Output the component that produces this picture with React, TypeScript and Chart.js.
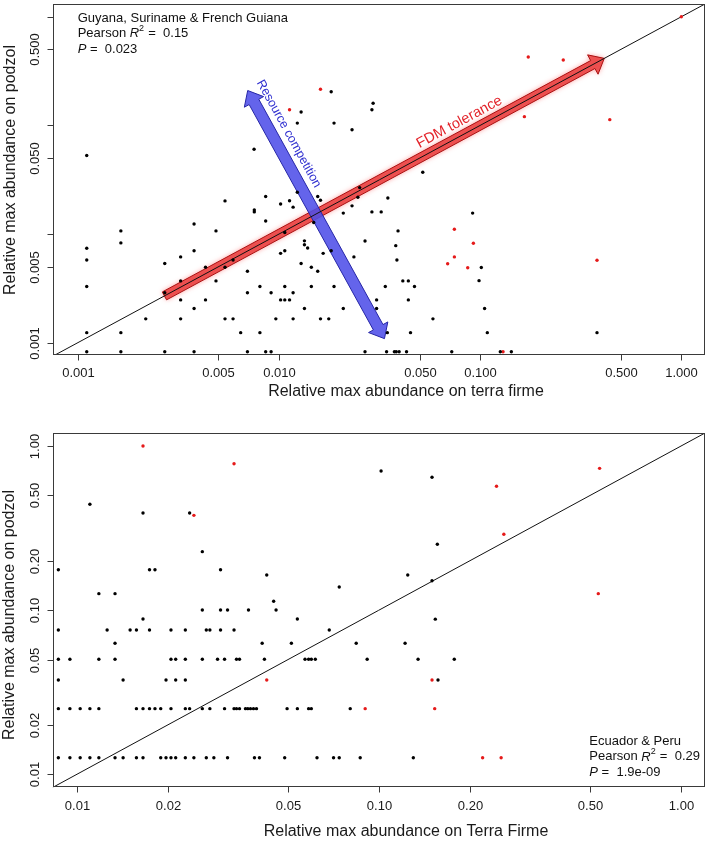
import React, { useEffect, useRef } from "react";
import { Chart, registerables } from "chart.js";
Chart.register(...registerables);

const FONT = '"Liberation Sans", Arial, Helvetica, sans-serif';

// ---------------- Top panel data (Guyana, Suriname & French Guiana) ----------------
const topBlackX = [
  0.00111, 0.0182, 0.0129, 0.01235, 0.0188, 0.0231, 0.00753, 0.0294, 0.029, 0.0519,
  0.0252, 0.01235, 0.0156, 0.0161, 0.0247, 0.0348, 0.0086, 0.0054, 0.0113, 0.0102,
  0.01177, 0.00755, 0.00755, 0.0231, 0.0209, 0.029, 0.03225, 0.0086, 0.0149, 0.00379,
  0.00487, 0.0107, 0.0391, 0.0268, 0.0381, 0.0134, 0.0134, 0.0139, 0.00379, 0.0107,
  0.0182, 0.00111, 0.00111, 0.00111, 0.00111, 0.00111, 0.00164, 0.00164, 0.00164, 0.00164,
  0.00218, 0.00271, 0.00271, 0.00271, 0.00325, 0.00325, 0.00325, 0.00325, 0.00379, 0.00379,
  0.00432, 0.00432, 0.00487, 0.0054, 0.0054, 0.00592, 0.00592, 0.00646, 0.00698, 0.00698,
  0.00698, 0.00805, 0.00805, 0.0086, 0.00915, 0.00915, 0.00966, 0.0102, 0.0102, 0.0107,
  0.0107, 0.0113, 0.01177, 0.01177, 0.0129, 0.0134, 0.0145, 0.0145, 0.0156, 0.0161,
  0.0166, 0.0177, 0.0188, 0.0209, 0.0236, 0.0268, 0.0306, 0.0306, 0.0338, 0.0346,
  0.0343, 0.0386, 0.0375, 0.0383, 0.0396, 0.0413, 0.044, 0.044, 0.0451, 0.0472,
  0.0431, 0.0583, 0.0918, 0.1014, 0.0988, 0.1053, 0.1086, 0.381, 0.0723, 0.126,
  0.143,
];
const topBlackY = [
  0.0529, 0.204, 0.133, 0.105, 0.105, 0.0912, 0.0604, 0.16, 0.1395, 0.0371,
  0.0268, 0.0243, 0.0222, 0.0205, 0.0218, 0.0215, 0.0222, 0.0202, 0.0203, 0.0189,
  0.0177, 0.0167, 0.016, 0.0182, 0.0156, 0.016, 0.016, 0.0132, 0.0128, 0.01237,
  0.0107, 0.01034, 0.0107, 0.00865, 0.00783, 0.00867, 0.00797, 0.00746, 0.00702, 0.00702,
  0.00702, 0.0074, 0.00577, 0.0033, 0.00124, 0.000828, 0.0107, 0.0083, 0.00124, 0.000828,
  0.00166, 0.00536, 0.00289, 0.000828, 0.00617, 0.00371, 0.00248, 0.00166, 0.00207, 0.000828,
  0.00496, 0.00248, 0.00371, 0.00496, 0.00166, 0.00577, 0.00166, 0.00124, 0.00455, 0.00289,
  0.000828, 0.0033, 0.00124, 0.000828, 0.00289, 0.000828, 0.00166, 0.00665, 0.00248, 0.0033,
  0.00248, 0.00248, 0.00289, 0.00166, 0.00536, 0.00207, 0.00496, 0.0033, 0.00455, 0.00166,
  0.00665, 0.00166, 0.0033, 0.00207, 0.00617, 0.000828, 0.00248, 0.00207, 0.0033, 0.00124,
  0.000828, 0.00577, 0.000828, 0.000828, 0.000828, 0.00371, 0.00371, 0.00248, 0.00124, 0.0033,
  0.000828, 0.00166, 0.0156, 0.00493, 0.00373, 0.00207, 0.00124, 0.00124, 0.000828, 0.000828,
  0.000828,
];
const topRedX = [0.0161, 0.0113, 1.0, 0.1735, 0.259, 0.166, 0.441, 0.0745, 0.0926, 0.0745, 0.069, 0.0868, 0.381, 0.13];
const topRedY = [0.215, 0.1395, 1.0, 0.426, 0.4, 0.1204, 0.113, 0.0111, 0.00823, 0.00617, 0.00533, 0.0049, 0.00574, 0.000828];

const topTicks = [0.001, 0.005, 0.01, 0.05, 0.1, 0.5, 1];
const topXLabels = ["0.001", "0.005", "0.010", "0.050", "0.100", "0.500", "1.000"];
const topYLabels = ["0.001", "0.005", "", "0.050", "", "0.500", ""];

// ---------------- Bottom panel data (Ecuador & Peru) ----------------
const bottomBlackX = [
  // row ~0.0126
  0.00868, 0.00948, 0.01025, 0.01104, 0.01182, 0.01337, 0.01422, 0.01574, 0.01655, 0.01894,
  0.01972, 0.02048, 0.02123, 0.02285, 0.02439, 0.02681, 0.0284, 0.03152, 0.0387, 0.0402,
  0.04873, 0.06234, 0.07072, 0.07385, 0.08665, 0.1299,
  // row ~0.0251
  0.00868, 0.00948, 0.01025, 0.01104, 0.01182, 0.01574, 0.01655, 0.01739, 0.01813, 0.01894,
  0.02048, 0.02285, 0.02361, 0.02601, 0.02755, 0.03081, 0.03312, 0.03375, 0.03453, 0.03614,
  0.03678, 0.03754, 0.03841, 0.0393, 0.04963, 0.05367, 0.05848, 0.0597, 0.0803,
  // row ~0.0375
  0.00868, 0.01422, 0.01972, 0.02123, 0.02285, 0.1568,
  // row ~0.0502
  0.00868, 0.00948, 0.01182, 0.01337, 0.02048, 0.02123, 0.02285, 0.02601, 0.02921, 0.03081,
  0.03375, 0.03453, 0.04176, 0.0569, 0.05848, 0.0597, 0.06154, 0.09137, 0.1347, 0.1775,
  // row ~0.0628
  0.01337, 0.04104, 0.05128, 0.08405, 0.122,
  // row ~0.0757
  0.00868, 0.01259, 0.015, 0.01574, 0.01739, 0.02048, 0.02285, 0.02681, 0.02755, 0.02988,
  0.03312, 0.06844,
  // upper points
  0.01655, 0.05367, 0.1536, 0.02601, 0.02988, 0.03152, 0.03698, 0.04563, 0.0448, 0.01182,
  0.01337, 0.07385, 0.1498, 0.0425, 0.1245, 0.00868, 0.01739, 0.01813, 0.02988, 0.02601,
  0.156, 0.01655, 0.02361, 0.01104, 0.1498, 0.1016,
];
const bottomBlackY = [
  0.0126, 0.0126, 0.0126, 0.0126, 0.0126, 0.0126, 0.0126, 0.0126, 0.0126, 0.0126,
  0.0126, 0.0126, 0.0126, 0.0126, 0.0126, 0.0126, 0.0126, 0.0126, 0.0126, 0.0126,
  0.0126, 0.0126, 0.0126, 0.0126, 0.0126, 0.0126,
  0.0251, 0.0251, 0.0251, 0.0251, 0.0251, 0.0251, 0.0251, 0.0251, 0.0251, 0.0251,
  0.0251, 0.0251, 0.0251, 0.0251, 0.0251, 0.0251, 0.0251, 0.0251, 0.0251, 0.0251,
  0.0251, 0.0251, 0.0251, 0.0251, 0.0251, 0.0251, 0.0251, 0.0251, 0.0251,
  0.0375, 0.0375, 0.0375, 0.0375, 0.0375, 0.0375,
  0.0502, 0.0502, 0.0502, 0.0502, 0.0502, 0.0502, 0.0502, 0.0502, 0.0502, 0.0502,
  0.0502, 0.0502, 0.0502, 0.0502, 0.0502, 0.0502, 0.0502, 0.0502, 0.0502, 0.0502,
  0.0628, 0.0628, 0.0628, 0.0628, 0.0628,
  0.0757, 0.0757, 0.0757, 0.0757, 0.0757, 0.0757, 0.0757, 0.0757, 0.0757, 0.0757,
  0.0757, 0.0757,
  0.0883, 0.0883, 0.0881, 0.1002, 0.1002, 0.1002, 0.1002, 0.1002, 0.1132, 0.126,
  0.126, 0.1384, 0.1511, 0.1637, 0.1637, 0.1764, 0.1764, 0.1764, 0.1764, 0.2271,
  0.2519, 0.3906, 0.3906, 0.4414, 0.645, 0.704,
];
const bottomRedX = [0.01655, 0.03312, 0.02439, 0.2449, 0.5374, 0.259, 0.532, 0.0425, 0.1498, 0.09, 0.1529, 0.2203, 0.2537];
const bottomRedY = [1.0, 0.78, 0.378, 0.568, 0.731, 0.29, 0.126, 0.0375, 0.0375, 0.0251, 0.0251, 0.0126, 0.0126];

const bottomTicks = [0.01, 0.02, 0.05, 0.1, 0.2, 0.5, 1];
const bottomLabels = ["0.01", "0.02", "0.05", "0.10", "0.20", "0.50", "1.00"];

// annotation anchors (data space)
const fdmArrowFrom = [0.0027, 0.0027];
const fdmArrowTo = [0.414, 0.414];
const fdmTextAt = [0.0789, 0.1072];
const compArrowFrom = [0.007, 0.2095];
const compArrowTo = [0.03348, 0.001092];
const compTextAt = [0.0112, 0.0838];

type Seg = { t: string; italic?: boolean; sup?: boolean };

function drawRich(ctx: CanvasRenderingContext2D, x: number, y: number, segs: Seg[]) {
  let cx = x;
  ctx.textAlign = "left";
  ctx.textBaseline = "middle";
  for (const s of segs) {
    const size = s.sup ? 9 : 13;
    ctx.font = `${s.italic ? "italic " : ""}${size}px ${FONT}`;
    ctx.fillText(s.t, cx, s.sup ? y - 5 : y);
    cx += ctx.measureText(s.t).width + (s.sup ? 0.5 : 0);
  }
}

function arrowPoly(x0: number, y0: number, x1: number, y1: number, w: number, hl: number, hw: number, dbl: boolean) {
  const dx = x1 - x0, dy = y1 - y0, L = Math.hypot(dx, dy);
  const ux = dx / L, uy = dy / L, nx = -uy, ny = ux;
  const p: number[][] = [];
  if (dbl) {
    p.push([x0, y0]);
    p.push([x0 + ux * hl + nx * hw / 2, y0 + uy * hl + ny * hw / 2]);
    p.push([x0 + ux * hl + nx * w / 2, y0 + uy * hl + ny * w / 2]);
  } else {
    p.push([x0 + nx * w / 2, y0 + ny * w / 2]);
  }
  p.push([x1 - ux * hl + nx * w / 2, y1 - uy * hl + ny * w / 2]);
  p.push([x1 - ux * hl + nx * hw / 2, y1 - uy * hl + ny * hw / 2]);
  p.push([x1, y1]);
  p.push([x1 - ux * hl - nx * hw / 2, y1 - uy * hl - ny * hw / 2]);
  p.push([x1 - ux * hl - nx * w / 2, y1 - uy * hl - ny * w / 2]);
  if (dbl) {
    p.push([x0 + ux * hl - nx * w / 2, y0 + uy * hl - ny * w / 2]);
    p.push([x0 + ux * hl - nx * hw / 2, y0 + uy * hl - ny * hw / 2]);
  } else {
    p.push([x0 - nx * w / 2, y0 - ny * w / 2]);
  }
  return p;
}

function fillPoly(ctx: CanvasRenderingContext2D, p: number[][]) {
  ctx.beginPath();
  p.forEach((q, i) => (i ? ctx.lineTo(q[0], q[1]) : ctx.moveTo(q[0], q[1])));
  ctx.closePath();
}

type AxisCfg = {
  xTicks: number[]; xLabels: string[]; yTicks: number[]; yLabels: string[];
  xTitle: string; yTitle: string;
  xLabelDy: number; xTitleX: number; xTitleDy: number; yLabelDx: number; yTitleX: number; yTitleY: number;
  notes: { x: number; y: number; segs: Seg[] }[];
};

function makeAxesPlugin(cfg: AxisCfg) {
  return {
    id: "rAxes",
    afterDraw(chart: any) {
      const { ctx, chartArea: a, scales } = chart;
      const xs = scales.x, ys = scales.y;
      ctx.save();
      ctx.strokeStyle = "#3a3a3a";
      ctx.lineWidth = 1;
      const L = Math.round(a.left) + 0.5, T = Math.round(a.top) + 0.5;
      const R = Math.round(a.right) - 0.5, B = Math.round(a.bottom) - 0.5;
      ctx.strokeRect(L, T, R - L, B - T);
      ctx.fillStyle = "#1a1a1a";
      ctx.font = `13px ${FONT}`;
      ctx.textAlign = "center";
      ctx.textBaseline = "middle";
      cfg.xTicks.forEach((v, i) => {
        const px = Math.round(xs.getPixelForValue(v)) + 0.5;
        ctx.beginPath(); ctx.moveTo(px, B); ctx.lineTo(px, B + 6); ctx.stroke();
        if (cfg.xLabels[i]) ctx.fillText(cfg.xLabels[i], px, B + cfg.xLabelDy);
      });
      cfg.yTicks.forEach((v, i) => {
        const py = Math.round(ys.getPixelForValue(v)) + 0.5;
        ctx.beginPath(); ctx.moveTo(L, py); ctx.lineTo(L - 6, py); ctx.stroke();
        if (cfg.yLabels[i]) {
          ctx.save(); ctx.translate(L - cfg.yLabelDx, py); ctx.rotate(-Math.PI / 2);
          ctx.fillText(cfg.yLabels[i], 0, 0); ctx.restore();
        }
      });
      ctx.font = `16px ${FONT}`;
      ctx.fillText(cfg.xTitle, cfg.xTitleX, B + cfg.xTitleDy);
      ctx.save(); ctx.translate(cfg.yTitleX, cfg.yTitleY); ctx.rotate(-Math.PI / 2);
      ctx.fillText(cfg.yTitle, 0, 0); ctx.restore();
      ctx.fillStyle = "#111";
      cfg.notes.forEach((n) => drawRich(ctx, n.x, n.y, n.segs));
      ctx.restore();
    },
  };
}

const arrowsPlugin = {
  id: "arrows",
  beforeDatasetsDraw(chart: any) {
    const { ctx, scales } = chart;
    const xs = scales.x, ys = scales.y;
    const P = (v: number[]) => [xs.getPixelForValue(v[0]), ys.getPixelForValue(v[1])];
    ctx.save();
    // red FDM tolerance arrow
    const a0 = P(fdmArrowFrom), a1 = P(fdmArrowTo);
    const rp = arrowPoly(a0[0], a0[1], a1[0], a1[1], 9, 13, 22, false);
    ctx.shadowColor = "rgba(255,90,90,0.7)";
    ctx.shadowBlur = 5;
    fillPoly(ctx, rp);
    ctx.fillStyle = "rgba(236,72,72,0.92)";
    ctx.fill();
    ctx.shadowBlur = 0;
    ctx.strokeStyle = "#a81010";
    ctx.lineWidth = 1;
    ctx.stroke();
    // blue resource competition arrow (double headed)
    const b0 = P(compArrowFrom), b1 = P(compArrowTo);
    const bp = arrowPoly(b0[0], b0[1], b1[0], b1[1], 11, 13, 22, true);
    fillPoly(ctx, bp);
    ctx.fillStyle = "rgba(78,78,232,0.88)";
    ctx.fill();
    ctx.strokeStyle = "#2626a6";
    ctx.stroke();
    // labels
    ctx.textAlign = "center";
    ctx.textBaseline = "middle";
    const ft = P(fdmTextAt);
    ctx.save();
    ctx.translate(ft[0], ft[1]);
    ctx.rotate(Math.atan2(a1[1] - a0[1], a1[0] - a0[0]));
    ctx.font = `14.5px ${FONT}`;
    ctx.fillStyle = "#e3242b";
    ctx.fillText("FDM tolerance", 0, 0);
    ctx.restore();
    const ct = P(compTextAt);
    ctx.save();
    ctx.translate(ct[0], ct[1]);
    ctx.rotate(Math.atan2(b1[1] - b0[1], b1[0] - b0[0]));
    ctx.font = `12.5px ${FONT}`;
    ctx.fillStyle = "#3030d0";
    ctx.fillText("Resource competition", 0, 0);
    ctx.restore();
    ctx.restore();
  },
};

type PanelProps = {
  width: number; height: number; top: number;
  padding: { left: number; right: number; top: number; bottom: number };
  xRange: number[]; yRange: number[];
  blackX: number[]; blackY: number[]; redX: number[]; redY: number[];
  axes: AxisCfg; arrows: boolean;
};

function Panel(props: PanelProps) {
  const ref = useRef<HTMLCanvasElement | null>(null);
  useEffect(() => {
    if (!ref.current) return;
    const black = props.blackX.map((x, i) => ({ x, y: props.blackY[i] }));
    const red = props.redX.map((x, i) => ({ x, y: props.redY[i] }));
    const plugins: any[] = [makeAxesPlugin(props.axes)];
    if (props.arrows) plugins.push(arrowsPlugin);
    const chart = new Chart(ref.current, {
      type: "scatter",
      data: {
        datasets: [
          { data: black, backgroundColor: "#000", borderWidth: 0, pointRadius: 1.7, order: 0 } as any,
          { data: red, backgroundColor: "#e51a1a", borderWidth: 0, pointRadius: 1.7, order: 0 } as any,
          {
            data: [{ x: 1e-5, y: 1e-5 }, { x: 100, y: 100 }],
            showLine: true, borderColor: "#111", borderWidth: 1, pointRadius: 0, order: 1, clip: 0,
          } as any,
        ],
      },
      options: {
        animation: false,
        responsive: false,
        devicePixelRatio: 1,
        layout: { padding: props.padding },
        events: [],
        plugins: { legend: { display: false }, tooltip: { enabled: false } },
        scales: {
          x: { type: "logarithmic", min: props.xRange[0], max: props.xRange[1], bounds: "data", display: false },
          y: { type: "logarithmic", min: props.yRange[0], max: props.yRange[1], bounds: "data", display: false },
        },
      } as any,
      plugins,
    });
    return () => chart.destroy();
  }, []);
  return (
    <canvas
      ref={ref}
      width={props.width}
      height={props.height}
      style={{ position: "absolute", left: 0, top: props.top, width: props.width, height: props.height, display: "block" }}
    />
  );
}

const topAxes: AxisCfg = {
  xTicks: topTicks, xLabels: topXLabels, yTicks: topTicks, yLabels: topYLabels,
  xTitle: "Relative max abundance on terra firme", yTitle: "Relative max abundance on podzol",
  xLabelDy: 19, xTitleX: 406, xTitleDy: 37, yLabelDx: 18, yTitleX: 11, yTitleY: 170,
  notes: [
    { x: 77.7, y: 18.3, segs: [{ t: "Guyana, Suriname & French Guiana" }] },
    { x: 77.7, y: 33.5, segs: [{ t: "Pearson " }, { t: "R", italic: true }, { t: "2", sup: true }, { t: " =  0.15" }] },
    { x: 77.7, y: 49.3, segs: [{ t: "P", italic: true }, { t: " =  0.023" }] },
  ],
};

const bottomAxes: AxisCfg = {
  xTicks: bottomTicks, xLabels: bottomLabels, yTicks: bottomTicks, yLabels: bottomLabels,
  xTitle: "Relative max abundance on Terra Firme", yTitle: "Relative max abundance on podzol",
  xLabelDy: 20, xTitleX: 406, xTitleDy: 45, yLabelDx: 18, yTitleX: 10, yTitleY: 195,
  notes: [
    { x: 589.3, y: 321.7, segs: [{ t: "Ecuador & Peru" }] },
    { x: 589.3, y: 336.9, segs: [{ t: "Pearson " }, { t: "R", italic: true }, { t: "2", sup: true }, { t: " =  0.29" }] },
    { x: 589.3, y: 352.7, segs: [{ t: "P", italic: true }, { t: " =  1.9e-09" }] },
  ],
};

export default function App() {
  return (
    <div style={{ position: "absolute", left: 0, top: 0, width: 709, height: 842, background: "#fff", overflow: "hidden" }}>
      <Panel
        width={709} height={420} top={0}
        padding={{ left: 53.3, right: 3, top: 2, bottom: 65 }}
        xRange={[0.000757, 1.311]} yRange={[0.000772, 1.31]}
        blackX={topBlackX} blackY={topBlackY} redX={topRedX} redY={topRedY}
        axes={topAxes} arrows={true}
      />
      <Panel
        width={709} height={422} top={420}
        padding={{ left: 52.7, right: 2.3, top: 13.3, bottom: 54.7 }}
        xRange={[0.008314, 1.2]} yRange={[0.00833, 1.195]}
        blackX={bottomBlackX} blackY={bottomBlackY} redX={bottomRedX} redY={bottomRedY}
        axes={bottomAxes} arrows={false}
      />
    </div>
  );
}
